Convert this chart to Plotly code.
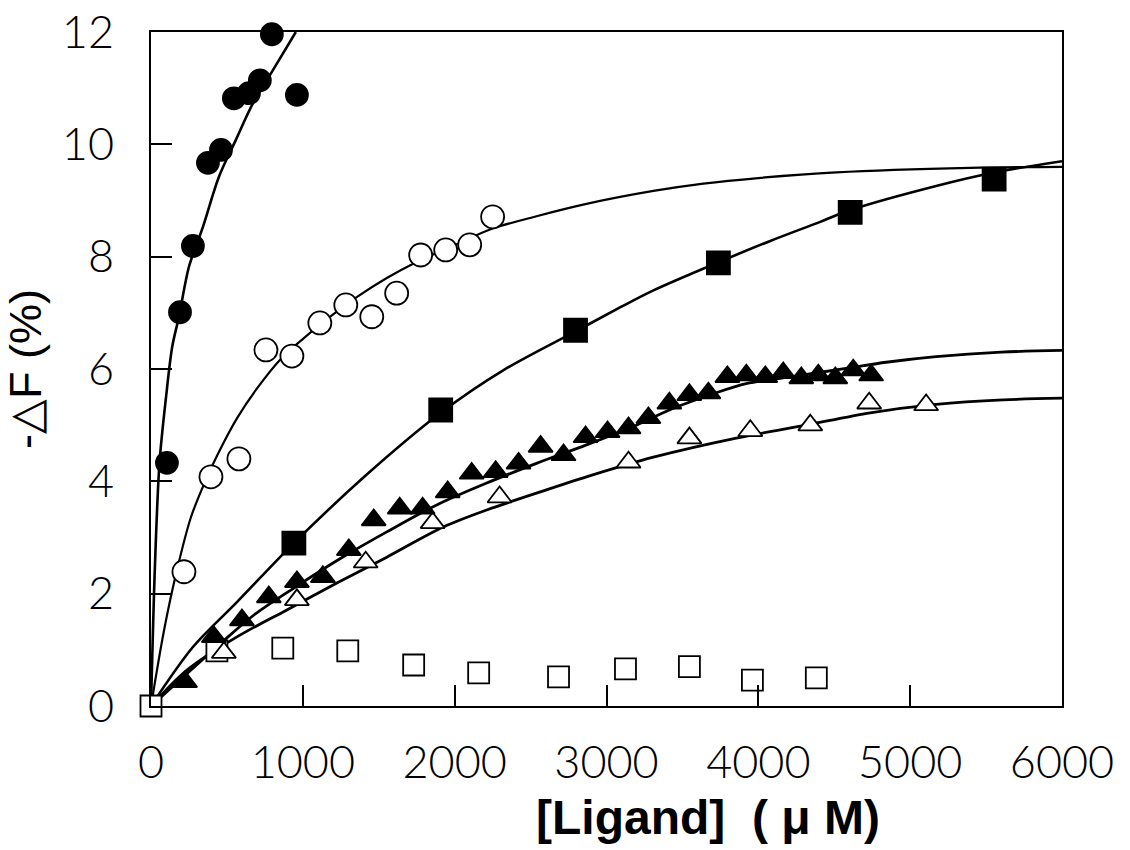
import plotly.graph_objects as go

# ---------------- data ----------------
# filled circles
fc_x = [105, 191, 276, 375, 461, 546, 645, 717, 796, 961]
fc_y = [4.33, 7.01, 8.19, 9.67, 9.90, 10.82, 10.91, 11.14, 11.96, 10.88]
# open circles
oc_x = [217, 395, 579, 757, 928, 1112, 1283, 1454, 1618, 1776, 1941, 2099, 2250]
oc_y = [2.39, 4.08, 4.40, 6.34, 6.23, 6.82, 7.14, 6.93, 7.35, 8.03, 8.12, 8.21, 8.71]
# filled squares
fs_x = [941, 1908, 2796, 3737, 4605, 5553]
fs_y = [2.90, 5.27, 6.69, 7.89, 8.79, 9.38]
# filled triangles
ft_x = [224, 414, 599, 776, 961, 1132, 1303, 1467, 1638, 1789, 1954, 2112, 2270,
        2421, 2566, 2717, 2862, 3007, 3145, 3276, 3414, 3546, 3671, 3796, 3921,
        4046, 4164, 4283, 4395, 4507, 4625, 4743]
ft_y = [0.43, 1.23, 1.53, 1.94, 2.21, 2.30, 2.78, 3.31, 3.52, 3.52, 3.81, 4.14, 4.17,
        4.32, 4.62, 4.47, 4.79, 4.88, 4.95, 5.13, 5.39, 5.54, 5.57, 5.86, 5.89,
        5.86, 5.93, 5.84, 5.89, 5.84, 5.98, 5.89]
# open triangles
ot_x = [480, 961, 1414, 1855, 2296, 3145, 3546, 3947, 4342, 4730, 5105]
ot_y = [0.95, 1.89, 2.56, 3.26, 3.72, 4.34, 4.77, 4.90, 5.00, 5.39, 5.36]
# open squares
os_x = [0, 434, 868, 1296, 1730, 2158, 2684, 3125, 3546, 3961, 4382]
os_y = [0.0, 0.98, 1.03, 0.98, 0.73, 0.59, 0.52, 0.66, 0.70, 0.46, 0.50]

# fitted curves
c1_x = [0, 26, 56, 99, 140, 184, 250, 342, 447, 559, 671, 803, 954]
c1_y = [0, 2.5, 4.33, 5.5, 6.4, 6.93, 7.82, 8.53, 9.42, 10.08, 10.73, 11.32, 12.0]
c2_x = [0, 86, 171, 263, 349, 434, 566, 697, 855, 1007, 1204, 1355, 1553, 1730,
        2013, 2250, 2539, 2868, 3309, 3638, 4000, 4513, 5395, 6000]
c2_y = [0, 1.35, 2.42, 3.36, 3.95, 4.45, 5.12, 5.65, 6.18, 6.55, 6.98, 7.28, 7.62,
        7.88, 8.22, 8.50, 8.72, 8.94, 9.17, 9.30, 9.40, 9.50, 9.58, 9.60]
c3_x = [0, 276, 566, 941, 1421, 1908, 2322, 2796, 3092, 3309, 3737, 4079, 4408,
        4605, 5171, 5553, 6000]
c3_y = [0, 1.05, 1.85, 2.90, 4.12, 5.22, 5.98, 6.67, 7.10, 7.40, 7.90, 8.28, 8.62,
        8.83, 9.26, 9.50, 9.70]
c4_x = [0, 461, 678, 941, 1250, 1553, 1882, 2211, 2539, 2868, 3197, 3421, 3704,
        3920, 4211, 4600, 4842, 5171, 5600, 6000]
c4_y = [0, 1.12, 1.62, 2.10, 2.63, 3.10, 3.58, 3.97, 4.32, 4.65, 5.00, 5.28, 5.56,
        5.74, 5.86, 6.02, 6.12, 6.22, 6.30, 6.33]
c5_x = [0, 237, 566, 895, 1224, 1553, 1928, 2211, 2539, 2868, 3309, 3855, 4296,
        4737, 5171, 5612, 6000]
c5_y = [0, 0.64, 1.23, 1.71, 2.19, 2.65, 3.19, 3.49, 3.79, 4.08, 4.43, 4.77, 4.99,
        5.22, 5.37, 5.45, 5.48]

x_ticks = [0, 1000, 2000, 3000, 4000, 5000, 6000]
y_ticks = [0, 2, 4, 6, 8, 10, 12]

TICK_FONT = dict(family="Lato", size=45, color="black", weight=300)
TITLE_FAMILY = "Liberation Sans"

fig = go.Figure()

for cx, cy, w in [(c1_x, c1_y, 2.6), (c2_x, c2_y, 2.2), (c3_x, c3_y, 2.6),
                  (c4_x, c4_y, 2.8), (c5_x, c5_y, 2.8)]:
    fig.add_trace(go.Scatter(x=cx, y=cy, mode="lines",
                             line=dict(color="black", width=w, shape="spline", smoothing=0.9),
                             hoverinfo="skip", showlegend=False))

def pts(x, y, symbol, size, fill):
    fig.add_trace(go.Scatter(
        x=x, y=y, mode="markers", cliponaxis=False, showlegend=False,
        marker=dict(symbol=symbol, size=size, color=fill,
                    line=dict(color="black", width=1.8))))

pts(os_x, os_y, "square", 21, "white")
pts(ot_x, ot_y, "triangle-up", 21, "white")
pts(ft_x, ft_y, "triangle-up", 21, "black")
pts(fs_x, fs_y, "square", 23, "black")
pts(oc_x, oc_y, "circle", 23, "white")
pts(fc_x, fc_y, "circle", 22, "black")

axis_common = dict(
    showline=True, linecolor="black", linewidth=2, mirror=True,
    ticks="inside", tickcolor="black", tickwidth=1.5, ticklen=21,
    showgrid=False, zeroline=False, tickfont=TICK_FONT,
)

fig.update_layout(
    width=1130, height=850,
    margin=dict(l=151, r=68, t=32, b=144, autoexpand=False),
    paper_bgcolor="white", plot_bgcolor="white",
    xaxis=dict(range=[0, 6000], tickvals=x_ticks, ticklabelstandoff=16,
               **axis_common),
    yaxis=dict(range=[0, 12], tickvals=y_ticks, ticklabelstandoff=26,
               title=dict(text="-△F (%)", standoff=10,
                          font=dict(family=TITLE_FAMILY, size=45, color="black")),
               **axis_common),
    annotations=[dict(
        text="<b>[Ligand]  ( μ M)</b>", xref="paper", yref="paper",
        x=(708 - 151) / 911, y=-(817 - 706) / 674, xanchor="center", yanchor="middle",
        showarrow=False, font=dict(family=TITLE_FAMILY, size=48, color="black"))],
)

fig.write_html("out.html")
